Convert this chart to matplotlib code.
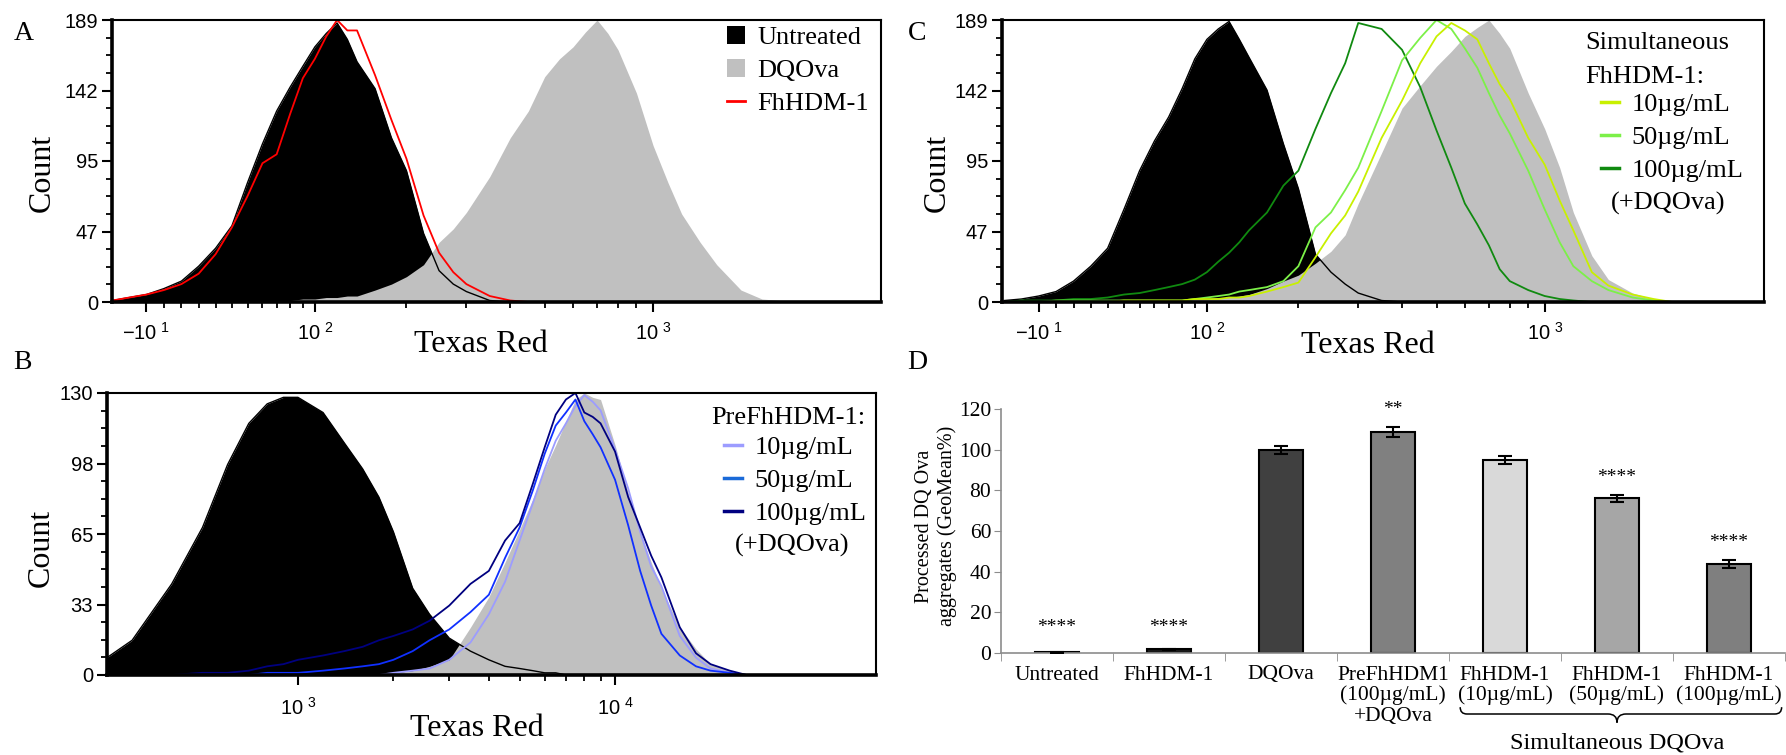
import numpy as np
import matplotlib
matplotlib.use('Agg')
import matplotlib.pyplot as plt
import matplotlib.transforms as mtransforms
from matplotlib.lines import Line2D
from matplotlib.patches import Patch, PathPatch
from matplotlib.path import Path
from matplotlib.ticker import FixedLocator, FixedFormatter, NullFormatter, AutoMinorLocator

plt.rcParams['font.family'] = ['Liberation Serif', 'DejaVu Serif']

# ---- panel A / C : Texas Red intensity grid (logicle-like axis) ----
AC_X = [-30, -20, -10, 0, 10, 20, 30, 40, 50, 60, 70, 80, 90, 100, 110, 120, 130, 140, 160, 180,
        200, 225, 250, 275, 300, 350, 400, 450, 500, 550, 600, 650, 700, 750, 800, 900, 1000,
        1100, 1200, 1350, 1500, 1750, 2000, 2250, 2500]

A_UNTREATED = [1, 3, 5, 9, 14, 24, 36, 51, 80, 106, 128, 144, 158, 171, 180, 187, 176, 161, 143, 110,
               88, 46, 21, 12, 7, 1, 0, 0, 0, 0, 0, 0, 0, 0, 0, 0, 0,
               0, 0, 0, 0, 0, 0, 0, 0]
A_DQOVA = [0, 0, 0, 0, 0, 0, 0, 0, 0, 0, 0, 1, 2, 2, 3, 3, 4, 4, 8, 12,
           17, 25, 40, 49, 60, 84, 110, 128, 151, 163, 171, 181, 189, 180, 169, 140, 105,
           80, 59, 40, 25, 8, 2, 1, 0]
A_FHHDM = [1, 3, 5, 8, 12, 19, 32, 50, 71, 93, 99, 126, 150, 163, 178, 189, 182, 182, 152, 122,
           96, 58, 33, 20, 12, 4, 1, 0, 0, 0, 0, 0, 0, 0, 0, 0, 0,
           0, 0, 0, 0, 0, 0, 0, 0]

C_UNTREATED = [1, 2, 4, 7, 14, 24, 36, 62, 88, 108, 124, 143, 163, 176, 183, 188, 176, 164, 142, 106,
               76, 32, 20, 12, 6, 1, 0, 0, 0, 0, 0, 0, 0, 0, 0, 0, 0,
               0, 0, 0, 0, 0, 0, 0, 0]
C_DQOVA = [0, 0, 0, 0, 0, 0, 0, 0, 0, 0, 0, 1, 2, 2, 3, 3, 4, 5, 9, 14,
           18, 26, 34, 45, 66, 100, 130, 145, 158, 168, 178, 184, 189, 180, 170, 140, 116,
           90, 60, 31, 15, 6, 2, 1, 0]
C_SIM10 = [0, 0, 0, 0, 0, 0, 0, 1, 1, 1, 1, 1, 2, 2, 2, 3, 3, 4, 7, 10,
           13, 30, 46, 58, 74, 110, 135, 160, 178, 187, 182, 176, 160, 146, 136, 110, 92,
           68, 48, 20, 11, 5, 2, 0, 0]
C_SIM50 = [0, 0, 0, 1, 1, 1, 1, 1, 1, 1, 1, 1, 2, 3, 4, 5, 7, 8, 10, 14,
           24, 50, 60, 75, 90, 128, 162, 177, 189, 183, 170, 157, 140, 125, 113, 88, 62,
           40, 24, 14, 8, 3, 1, 0, 0]
C_SIM100 = [0, 1, 1, 1, 2, 2, 3, 5, 6, 8, 10, 12, 15, 20, 27, 33, 40, 48, 60, 78,
            88, 116, 140, 160, 187, 183, 169, 144, 115, 90, 66, 52, 38, 22, 14, 8, 4,
            2, 1, 0, 0, 0, 0, 0, 0]

# ---- panel B : log axis grid ----
B_X = [250, 300, 400, 500, 600, 700, 800, 900, 1000, 1200, 1400, 1600, 1800, 2000, 2300, 2600,
       3000, 3500, 4000, 4500, 5000, 5500, 6000, 6500, 7000, 7500, 8000, 8500, 9000, 10000,
       11000, 12000, 13000, 14000, 16000, 18000, 20000, 23000, 26000, 30000]
B_UNTREATED = [8, 16, 42, 68, 97, 116, 125, 128, 128, 121, 107, 95, 82, 66, 40, 28,
               17, 11, 7, 4, 3, 2, 1, 1, 0, 0, 0, 0, 0, 0,
               0, 0, 0, 0, 0, 0, 0, 0, 0, 0]
B_DQOVA = [0, 0, 0, 0, 0, 0, 0, 0, 0, 0, 0, 0, 0, 1, 2, 4,
           7, 22, 36, 52, 67, 81, 95, 106, 117, 127, 130, 128, 127, 106,
           84, 66, 52, 40, 22, 12, 5, 2, 0, 0]
B_PRE10 = [0, 0, 0, 0, 0, 0, 0, 0, 0, 0, 0, 0, 0, 1, 2, 3,
           7, 15, 28, 43, 62, 79, 95, 108, 116, 124, 129, 126, 122, 104,
           86, 66, 50, 41, 18, 8, 3, 1, 0, 0]
B_PRE50 = [0, 0, 0, 0, 0, 0, 1, 1, 1, 2, 3, 4, 5, 7, 11, 16,
           21, 29, 37, 54, 68, 85, 102, 115, 121, 127, 117, 111, 105, 90,
           69, 48, 32, 19, 9, 4, 2, 1, 0, 0]
B_PRE100 = [0, 0, 0, 1, 1, 2, 4, 5, 7, 9, 11, 13, 16, 18, 21, 25,
            32, 42, 48, 62, 70, 88, 105, 120, 127, 130, 121, 119, 116, 103,
            82, 68, 55, 45, 22, 10, 5, 2, 0, 0]

# ---- panel D : bar chart ----
D_CATS = ['Untreated', 'FhHDM-1', 'DQOva', 'PreFhHDM1\n(100µg/mL)\n+DQOva',
          'FhHDM-1\n(10µg/mL)', 'FhHDM-1\n(50µg/mL)', 'FhHDM-1\n(100µg/mL)']
D_VALS = [0.3, 1.9, 100, 108.7, 94.9, 76.1, 43.8]
D_ERR = [0.1, 0.3, 1.9, 2.4, 2.1, 1.8, 2.1]
D_SIG = ['****', '****', '', '**', '', '****', '****']
D_COLORS = ['#d0d0d0', '#1a1a1a', '#404040', '#808080', '#d9d9d9', '#a6a6a6', '#7f7f7f']

W, H = 1786, 755
fig = plt.figure(figsize=(W / 100, H / 100), dpi=100)


def fx(px):
    return px / W


def fy(py):
    return 1 - py / H


def rect(l, t, r, b):
    return [fx(l), fy(b), (r - l) / W, (b - t) / H]


C0 = 90.0


def fwd(x):
    return np.arcsinh(np.asarray(x, float) / C0) / np.log(10)


def inv(y):
    return C0 * np.sinh(np.asarray(y, float) * np.log(10))


SANS = 'Liberation Sans'
LEG = dict(frameon=False, prop={'family': 'Liberation Serif', 'size': 19}, borderpad=0,
           borderaxespad=0, labelspacing=0.36, handletextpad=0.45, loc='upper left',
           bbox_transform=fig.transFigure)


def style_flow(ax, ymax, ylabels, xpad):
    ax.set_ylim(0, ymax)
    ax.yaxis.set_major_locator(FixedLocator(np.linspace(0, ymax, 5)))
    ax.yaxis.set_major_formatter(FixedFormatter(ylabels))
    ax.yaxis.set_minor_locator(AutoMinorLocator(4))
    ax.tick_params(which='major', direction='out', length=7, width=1.5, labelsize=14.5,
                   labelfontfamily=SANS)
    ax.tick_params(which='minor', direction='out', length=4.5, width=1.3)
    ax.tick_params(axis='y', pad=3)
    ax.tick_params(axis='x', pad=xpad)
    for side in ['left', 'bottom']:
        ax.spines[side].set_linewidth(2.6)
    for side in ['top', 'right']:
        ax.spines[side].set_linewidth(1.5)
    for sp in ax.spines.values():
        sp.set_zorder(10)


def logicle_ticks(ax):
    ax.xaxis.set_major_locator(FixedLocator([-10, 100, 1000]))
    ax.xaxis.set_major_formatter(FixedFormatter([r'$\mathregular{-10^{\ 1}}$',
                                                 r'$\mathregular{10^{\ 2}}$',
                                                 r'$\mathregular{10^{\ 3}}$']))
    ax.xaxis.set_minor_locator(FixedLocator(list(range(0, 100, 10)) + list(range(200, 1000, 100))))
    ax.xaxis.set_minor_formatter(NullFormatter())


# ---------------- A ----------------
axA = fig.add_axes(rect(112, 20, 881, 302))
axA.set_xscale('function', functions=(fwd, inv))
axA.fill_between(AC_X, A_UNTREATED, color='black', lw=0, zorder=1)
axA.fill_between(AC_X, A_DQOVA, color='#c0c0c0', lw=0, zorder=2)
axA.plot(AC_X, A_UNTREATED, color='black', lw=1, zorder=3)
axA.plot(AC_X, A_FHHDM, color='#ff0000', lw=1.3, zorder=4)
axA.set_xlim(-30.2, 4257)
logicle_ticks(axA)
style_flow(axA, 189, ['0', '47', '95', '142', '189'], 7)
axA.legend(handles=[Patch(facecolor='black'), Patch(facecolor='#c0c0c0'),
                    Line2D([], [], color='#ff0000', lw=2)],
           labels=['Untreated', 'DQOva', 'FhHDM-1'], handlelength=0.7, handleheight=0.7,
           bbox_to_anchor=(fx(727), fy(26)), **LEG)

# ---------------- B ----------------
axB = fig.add_axes(rect(107, 393, 876, 675))
axB.set_xscale('log')
axB.fill_between(B_X, B_UNTREATED, color='black', lw=0, zorder=1)
axB.fill_between(B_X, B_DQOVA, color='#c0c0c0', lw=0, zorder=2)
axB.plot(B_X, B_UNTREATED, color='black', lw=1, zorder=3)
axB.plot(B_X, B_PRE10, color='#9c9cff', lw=1.3, zorder=4)
axB.plot(B_X, B_PRE50, color='#1030ff', lw=1.3, zorder=5)
axB.plot(B_X, B_PRE100, color='#000080', lw=1.3, zorder=6)
axB.set_xlim(250, 66500)
axB.xaxis.set_major_locator(FixedLocator([1000, 10000]))
axB.xaxis.set_major_formatter(FixedFormatter([r'$\mathregular{10^{\ 3}}$', r'$\mathregular{10^{\ 4}}$']))
axB.xaxis.set_minor_locator(FixedLocator(list(range(2000, 10000, 1000))))
axB.xaxis.set_minor_formatter(NullFormatter())
style_flow(axB, 130, ['0', '33', '65', '98', '130'], 8.5)
axB.legend(handles=[Line2D([], [], color='#9c9cff', lw=2.5), Line2D([], [], color='#1a6ad8', lw=2.5),
                    Line2D([], [], color='#000080', lw=2.5)],
           labels=['10µg/mL', '50µg/mL', '100µg/mL'], handlelength=0.7,
           bbox_to_anchor=(fx(724), fy(436)), **LEG)

# ---------------- C ----------------
axC = fig.add_axes(rect(1002, 20, 1764, 302))
axC.set_xscale('function', functions=(fwd, inv))
axC.fill_between(AC_X, C_UNTREATED, color='black', lw=0, zorder=1)
axC.fill_between(AC_X, C_DQOVA, color='#c0c0c0', lw=0, zorder=2)
axC.plot(AC_X, C_UNTREATED, color='black', lw=1, zorder=3)
axC.plot(AC_X, C_SIM100, color='#108a10', lw=1.3, zorder=4)
axC.plot(AC_X, C_SIM50, color='#7cf048', lw=1.3, zorder=5)
axC.plot(AC_X, C_SIM10, color='#c8f000', lw=1.3, zorder=6)
axC.set_xlim(-31.5, 4032)
logicle_ticks(axC)
style_flow(axC, 189, ['0', '47', '95', '142', '189'], 7)
axC.legend(handles=[Line2D([], [], color='#c8f000', lw=2.5), Line2D([], [], color='#7cf048', lw=2.5),
                    Line2D([], [], color='#108a10', lw=2.5)],
           labels=['10µg/mL', '50µg/mL', '100µg/mL'], handlelength=0.7,
           bbox_to_anchor=(fx(1601), fy(93)), **LEG)

# ---------------- D ----------------
axD = fig.add_axes(rect(1001, 409, 1785, 653))
pos = np.arange(len(D_CATS))
axD.bar(pos, D_VALS, 0.4, color=D_COLORS, edgecolor='black', linewidth=1.5, zorder=2)
axD.errorbar(pos, D_VALS, yerr=D_ERR, fmt='none', ecolor='black', elinewidth=1.5,
             capsize=5, capthick=1.5, zorder=3)
axD.set_xlim(-0.5, 6.5)
axD.set_ylim(0, 120)
axD.set_yticks(range(0, 121, 20))
axD.set_xticks(pos)
axD.set_xticklabels(D_CATS, fontsize=15.5, linespacing=1.08)
axD.set_xticks(np.arange(-0.5, 7, 1), minor=True)
axD.tick_params(axis='x', which='major', length=0, pad=9)
axD.tick_params(axis='x', which='minor', length=6, color='#8c8c8c', direction='out')
axD.tick_params(axis='y', length=5, color='#8c8c8c', labelsize=15.5, pad=2)
for side in ['top', 'right']:
    axD.spines[side].set_visible(False)
for side in ['left', 'bottom']:
    axD.spines[side].set_color('#8c8c8c')
    axD.spines[side].set_linewidth(1.2)
for i, s in enumerate(D_SIG):
    if s:
        axD.text(pos[i], max(D_VALS[i] + D_ERR[i], 4) + 8.5, s, ha='center', va='center',
                 fontsize=14, clip_on=False)

trans = mtransforms.blended_transform_factory(axD.transData, axD.transAxes)
x0, xm, x1 = pos[4] - 0.4, pos[5], pos[6] + 0.47
yb, yl, yt = -0.222, -0.25, -0.285
verts = [(x0, yb), (x0, yl), (x0 + 0.06, yl), (xm - 0.08, yl), (xm, yl), (xm, yt),
         (xm, yl), (xm + 0.08, yl), (x1 - 0.06, yl), (x1, yl), (x1, yb)]
codes = [Path.MOVETO, Path.CURVE3, Path.CURVE3, Path.LINETO, Path.CURVE3, Path.CURVE3,
         Path.CURVE3, Path.CURVE3, Path.LINETO, Path.CURVE3, Path.CURVE3]
axD.add_patch(PathPatch(Path(verts, codes), fill=False, lw=1.1, transform=trans, clip_on=False))
axD.text(xm, -0.37, 'Simultaneous DQOva', transform=trans, ha='center', va='center', fontsize=17.5)

# ---------------- texts ----------------
for lbl, px, py in [('A', 24, 33), ('B', 22, 363), ('C', 917, 33), ('D', 917, 363)]:
    fig.text(fx(px), fy(py), lbl, ha='center', va='center', fontsize=20)
for px, py in [(42, 173), (41, 548), (937, 173)]:
    fig.text(fx(px), fy(py), 'Count', rotation=90, ha='center', va='center', fontsize=23)
for px, py in [(481, 344), (477, 729), (1368, 346)]:
    fig.text(fx(px), fy(py), 'Texas Red', ha='center', va='center', fontsize=23)
fig.text(fx(865), fy(418), 'PreFhHDM-1:', ha='right', va='center', fontsize=19)
fig.text(fx(792), fy(545), '(+DQOva)', ha='center', va='center', fontsize=19)
fig.text(fx(1585), fy(43), 'Simultaneous', ha='left', va='center', fontsize=19)
fig.text(fx(1585), fy(77), 'FhHDM-1:', ha='left', va='center', fontsize=19)
fig.text(fx(1668), fy(203), '(+DQOva)', ha='center', va='center', fontsize=19)
fig.text(fx(936), fy(526), 'Processed DQ Ova\naggregates (GeoMean%)', rotation=90,
         ha='center', va='center', fontsize=14.5, linespacing=1.2)

fig.savefig('out.png', dpi=100)
